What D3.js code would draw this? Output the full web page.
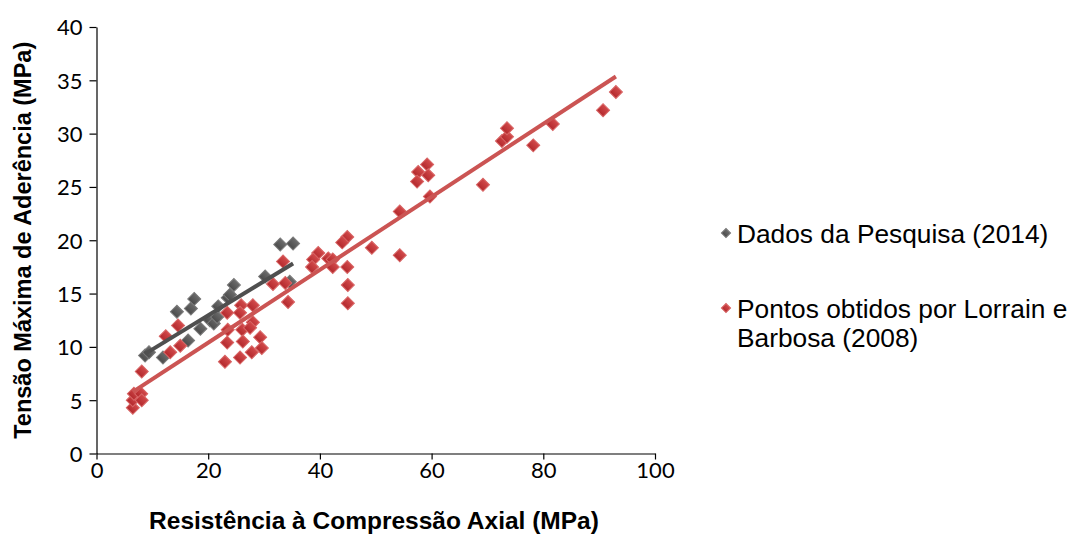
<!DOCTYPE html>
<html>
<head>
<meta charset="utf-8">
<script src="https://cdn.jsdelivr.net/npm/d3@7"></script>
<style>
  body { margin: 0; background: #fff; }
  svg { display: block; }
</style>
</head>
<body>
<div id="chart"></div>
<script>
// Dados da Pesquisa (2014)
const pesquisaX = [8.7, 9.4, 11.9, 14.4, 16.4, 16.9, 17.5, 18.6, 20.3, 21.0, 21.6, 21.8, 23.5, 23.9, 24.6, 30.2, 32.9, 34.6, 35.2]
const pesquisaY = [9.2, 9.5, 9.0, 13.3, 10.6, 13.6, 14.5, 11.7, 12.5, 12.2, 12.8, 13.8, 14.6, 14.9, 15.8, 16.6, 19.6, 16.1, 19.7]

// Pontos obtidos por Lorrain e Barbosa (2008)
const lorrainX = [6.5, 6.5, 6.7, 8.0, 8.1, 8.1, 12.4, 14.6, 15.0, 13.2,
  23.4, 25.9, 28.0, 25.7, 28.0, 23.5, 26.1, 27.5, 23.4, 26.2, 29.3, 29.6, 27.8, 23.0, 25.7,
  33.4, 33.8, 34.3, 31.6,
  39.7, 38.8, 41.5, 42.3, 42.3, 38.6, 44.9, 44.9, 44.0, 49.3, 54.3, 45.0, 45.0,
  54.3, 59.2, 57.6, 59.4, 57.4, 59.7, 69.2, 72.6, 73.5, 73.5, 78.2, 81.7, 90.7, 93.0]
const lorrainY = [4.3, 5.0, 5.6, 5.6, 5.0, 7.7, 11.0, 12.0, 10.1, 9.5,
  13.2, 13.9, 13.9, 13.2, 12.3, 11.6, 11.6, 11.8, 10.4, 10.5, 10.9, 9.9, 9.5, 8.6, 9.0,
  18.0, 16.0, 14.2, 15.9,
  18.8, 18.2, 18.3, 18.2, 17.5, 17.5, 17.5, 20.3, 19.8, 19.3, 18.6, 15.8, 14.1,
  22.7, 27.1, 26.4, 26.1, 25.5, 24.1, 25.2, 29.3, 29.7, 30.5, 28.9, 30.9, 32.2, 33.9]

// linear trendlines [slope, intercept] as shown on the chart
const pesquisaTrend = [0.32, 6.56]
const lorrainTrend = [0.342, 3.55]

const xTicks = [0, 20, 40, 60, 80, 100]
const yTicks = [0, 5, 10, 15, 20, 25, 30, 35, 40]

const seriesNames = ['Dados da Pesquisa (2014)', 'Pontos obtidos por Lorrain e', 'Barbosa (2008)']

const width = 1074
const height = 536

const svg = d3
  .select('#chart')
  .append('svg')
  .attr('width', width)
  .attr('height', height)

const defs = svg.append('defs')

const addGradient = (id, top, bottom) => {
  const g = defs
    .append('linearGradient')
    .attr('id', id)
    .attr('x1', '0%')
    .attr('y1', '0%')
    .attr('x2', '0%')
    .attr('y2', '100%')
  g.append('stop').attr('offset', '0%').attr('stop-color', top)
  g.append('stop').attr('offset', '100%').attr('stop-color', bottom)
}
addGradient('grayFill', '#6c6c6c', '#4b4b4b')
addGradient('redFill', '#d24a4b', '#b3292d')

const x = d3.scaleLinear().domain([0, 100]).range([96.5, 655])
const y = d3.scaleLinear().domain([0, 40]).range([453.5, 27])

// axes
const xAxis = svg
  .append('g')
  .attr('transform', `translate(0, ${y(0)})`)
  .call(d3.axisBottom(x).tickValues(xTicks).tickSize(6).tickPadding(3).tickSizeOuter(0))

const yAxis = svg
  .append('g')
  .attr('transform', `translate(${x(0)}, 0)`)
  .call(d3.axisLeft(y).tickValues(yTicks).tickSize(7).tickPadding(7).tickSizeOuter(0))

;[xAxis, yAxis].forEach(a => {
  a.select('.domain').attr('stroke', '#000').attr('stroke-width', 1.2)
  a.selectAll('.tick line').attr('stroke', '#000').attr('stroke-width', 1.2)
  a.selectAll('.tick text')
    .attr('font-family', 'Lato, "Open Sans", sans-serif')
    .attr('font-size', 22)
    .attr('fill', '#000')
})
yAxis.selectAll('.tick text').attr('dy', '0.36em')

// axis titles
svg
  .append('text')
  .attr('x', 374)
  .attr('y', 529)
  .attr('text-anchor', 'middle')
  .attr('font-family', '"Liberation Sans", Arial, sans-serif')
  .attr('font-weight', 'bold')
  .attr('font-size', 24.5)
  .text('Resistência à Compressão Axial (MPa)')

svg
  .append('text')
  .attr('transform', `translate(31, ${(y(0) + y(40)) / 2}) rotate(-90)`)
  .attr('text-anchor', 'middle')
  .attr('font-family', '"Liberation Sans", Arial, sans-serif')
  .attr('font-weight', 'bold')
  .attr('font-size', 23.5)
  .text('Tensão Máxima de Aderência (MPa)')

// markers
const diamond = d3.symbol().type(d3.symbolSquare).size(85)
const pesquisa = pesquisaX.map((v, i) => [v, pesquisaY[i]])
const lorrain = lorrainX.map((v, i) => [v, lorrainY[i]])

svg
  .append('g')
  .selectAll('path')
  .data(pesquisa)
  .enter()
  .append('path')
  .attr('d', diamond)
  .attr('transform', d => `translate(${x(d[0])}, ${y(d[1])}) rotate(45)`)
  .attr('fill', 'url(#grayFill)')
  .attr('stroke', '#7a7a7a')
  .attr('stroke-width', 1)

svg
  .append('g')
  .selectAll('path')
  .data(lorrain)
  .enter()
  .append('path')
  .attr('d', diamond)
  .attr('transform', d => `translate(${x(d[0])}, ${y(d[1])}) rotate(45)`)
  .attr('fill', 'url(#redFill)')
  .attr('stroke', '#d86565')
  .attr('stroke-width', 1)

// trendlines over the data range
const trendLine = (xs, t) => {
  const ext = d3.extent(xs)
  return ext.map(v => [v, t[0] * v + t[1]])
}
const line = d3.line().x(d => x(d[0])).y(d => y(d[1]))

svg
  .append('path')
  .attr('d', line(trendLine(pesquisaX, pesquisaTrend)))
  .attr('stroke', '#4f4f4f')
  .attr('stroke-width', 4)
  .attr('fill', 'none')

svg
  .append('path')
  .attr('d', line(trendLine(lorrainX, lorrainTrend)))
  .attr('stroke', '#cb5453')
  .attr('stroke-width', 4)
  .attr('fill', 'none')

// legend
const legendFont = '"Liberation Sans", Arial, sans-serif'
const legend = svg.append('g')
const smallDiamond = d3.symbol().type(d3.symbolSquare).size(42)

legend
  .append('path')
  .attr('d', smallDiamond)
  .attr('transform', 'translate(726, 233) rotate(45)')
  .attr('fill', 'url(#grayFill)')
  .attr('stroke', '#7a7a7a')

legend
  .append('path')
  .attr('d', smallDiamond)
  .attr('transform', 'translate(726, 308) rotate(45)')
  .attr('fill', 'url(#redFill)')
  .attr('stroke', '#d86565')

legend
  .selectAll('text')
  .data(seriesNames)
  .enter()
  .append('text')
  .attr('x', 737)
  .attr('y', (d, i) => [243, 318, 347][i])
  .attr('font-family', legendFont)
  .attr('font-size', 26.3)
  .attr('fill', '#000')
  .text(d => d)
</script>
</body>
</html>
